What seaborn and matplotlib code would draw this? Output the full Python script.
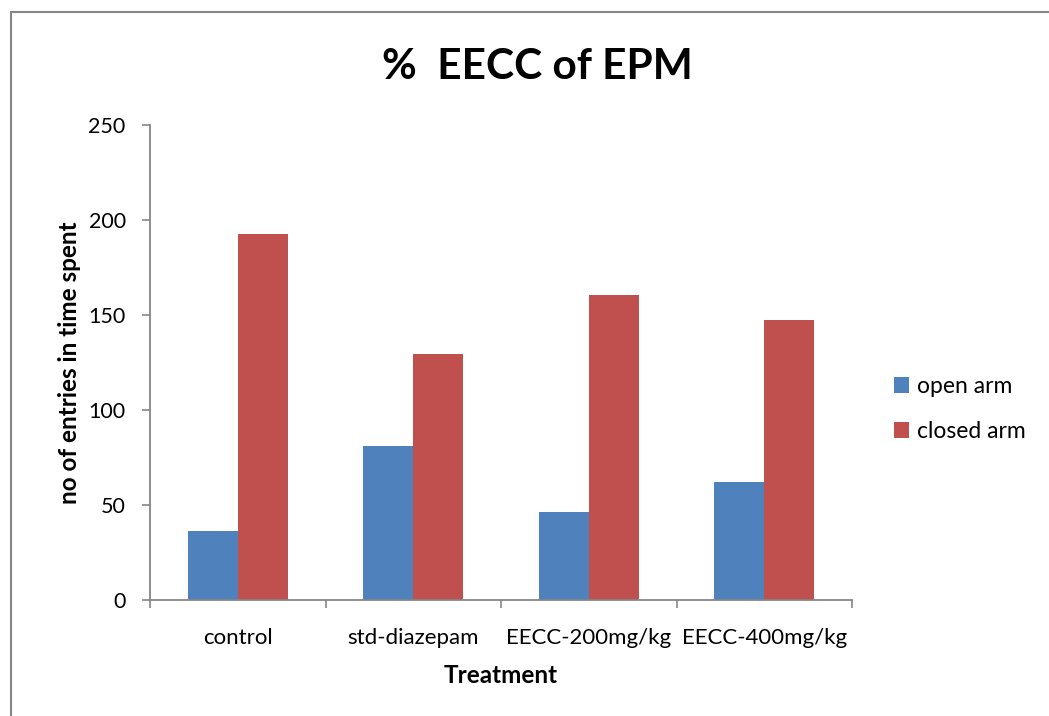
import matplotlib
matplotlib.use("Agg")
import matplotlib.pyplot as plt
from matplotlib.lines import Line2D
from matplotlib.ticker import FixedLocator
import seaborn as sns
import pandas as pd

# Chart data
treatments = ["control", "std-diazepam", "EECC-200mg/kg", "EECC-400mg/kg"]
open_arm = [36.3, 81.0, 46.5, 62.3]
closed_arm = [192.6, 129.5, 160.5, 147.6]
series_names = ["open arm", "closed arm"]
y_ticks = [0, 50, 100, 150, 200, 250]

df = pd.DataFrame({
    "Treatment": treatments * 2,
    "value": open_arm + closed_arm,
    "series": [series_names[0]] * 4 + [series_names[1]] * 4,
})

sns.set_theme(style="white")
plt.rcParams["font.family"] = ["Lato", "DejaVu Sans"]
plt.rcParams["text.color"] = "black"
plt.rcParams["axes.labelcolor"] = "black"

W, H = 1049, 716
fig = plt.figure(figsize=(W / 100, H / 100), dpi=100)
ax = fig.add_axes([150 / W, 1 - 600 / H, (852 - 150) / W, (600 - 125) / H])

sns.barplot(data=df, x="Treatment", y="value", hue="series", order=treatments,
            hue_order=series_names, palette=["#4F81BD", "#C0504D"],
            width=0.571, gap=0, saturation=1, linewidth=0, ax=ax, legend=True)

ax.set_xlim(-0.5, 3.5)
ax.set_ylim(0, 250)
ax.set_yticks(y_ticks)
ax.tick_params(axis="y", length=5.5, width=1.2, color="#868686", direction="out",
               labelsize=15.5, labelcolor="black", pad=12, left=True)
# category labels at centres without marks, marks at boundaries
ax.tick_params(axis="x", which="major", length=0, labelsize=16, labelcolor="black", pad=20)
ax.xaxis.set_minor_locator(FixedLocator([-0.5, 0.5, 1.5, 2.5, 3.5]))
ax.tick_params(axis="x", which="minor", length=5.5, width=1.2, color="#868686",
               direction="out", bottom=True)

for side in ["top", "right"]:
    ax.spines[side].set_visible(False)
for side in ["left", "bottom"]:
    ax.spines[side].set_color("#868686")
    ax.spines[side].set_linewidth(1.3)

ax.set_xlabel("Treatment", fontsize=17.5, fontweight="bold", labelpad=12)
ax.set_ylabel("no of entries in time spent", fontsize=17.5, fontweight="bold", labelpad=5.5)
fig.text(537 / W, 1 - 67 / H, "%  EECC of EPM", fontsize=30.5, fontweight="bold",
         ha="center", va="center")

ax.legend(loc="center left", bbox_to_anchor=(873 / W, 1 - 409 / H),
          bbox_transform=fig.transFigure, frameon=False, fontsize=16.5,
          handlelength=0.66, handleheight=0.66, handletextpad=0.35, labelspacing=1.05)

# outer chart frame (only left and top edges visible in the picture)
fig.add_artist(Line2D([10.5 / W, 10.5 / W], [0, 1 - 12 / H], color="#868686", lw=1.5))
fig.add_artist(Line2D([10.5 / W, 1], [1 - 12 / H, 1 - 12 / H], color="#868686", lw=1.5))

fig.savefig("out.png", dpi=100)
